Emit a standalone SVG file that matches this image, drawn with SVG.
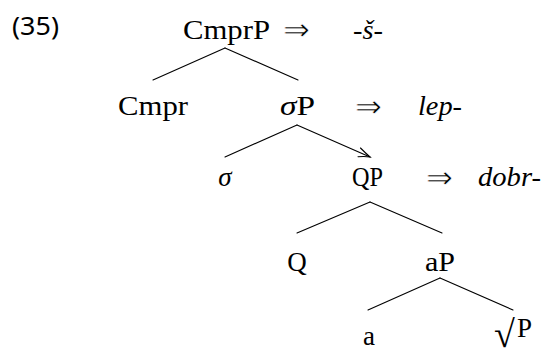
<svg xmlns="http://www.w3.org/2000/svg" width="545" height="356" viewBox="0 0 545 356">
  <style>
    .lbl { font-family: "Liberation Serif", "Times New Roman", serif; font-size: 27px; fill: #000; }
    .it { font-family: "Liberation Serif", "Times New Roman", serif; font-size: 27px; font-style: italic; fill: #000; }
    .arr { font-family: "DejaVu Sans", sans-serif; font-size: 31px; fill: #000; stroke: #fff; stroke-width: 0.7; }
    .num { font-family: "Noto Sans", "DejaVu Sans", sans-serif; font-size: 26px; fill: #000; }
    .edge { stroke: #000; stroke-width: 1.1; fill: none; stroke-linecap: round; }
  </style>
  <rect width="545" height="356" fill="#fff"/>
  <text class="num" x="12" y="35" textLength="47" lengthAdjust="spacingAndGlyphs">(35)</text>

  <g id="connectors">
    <line class="edge" x1="225" y1="48" x2="153" y2="80"/>
    <line class="edge" x1="225" y1="48" x2="298" y2="80"/>
    <line class="edge" x1="297" y1="125" x2="225" y2="157"/>
    <line class="edge" x1="297" y1="125" x2="370" y2="157"/>
    <path class="edge" d="M360.5,148 Q366,153.5 370,157 Q364.5,156 358,156.8"/>
    <line class="edge" x1="370" y1="202" x2="297" y2="233"/>
    <line class="edge" x1="370" y1="202" x2="442" y2="233"/>
    <line class="edge" x1="440" y1="278" x2="368" y2="310"/>
    <line class="edge" x1="440" y1="278" x2="513" y2="310"/>
  </g>

  <g id="node-CmprP">
    <text class="lbl" x="183" y="39" textLength="87" lengthAdjust="spacingAndGlyphs">CmprP</text>
    <text class="arr" x="283" y="40" textLength="27" lengthAdjust="spacingAndGlyphs">⇒</text>
    <text class="it" x="353" y="39" textLength="30" lengthAdjust="spacingAndGlyphs">-š-</text>
  </g>
  <g id="node-Cmpr">
    <text class="lbl" x="118" y="115" textLength="70" lengthAdjust="spacingAndGlyphs">Cmpr</text>
  </g>
  <g id="node-sigmaP">
    <text class="lbl" x="280" y="115" textLength="35" lengthAdjust="spacingAndGlyphs"><tspan font-style="italic">σ</tspan>P</text>
    <text class="arr" x="355" y="117" textLength="27" lengthAdjust="spacingAndGlyphs">⇒</text>
    <text class="it" x="418" y="115" textLength="44" lengthAdjust="spacingAndGlyphs">lep-</text>
  </g>
  <g id="node-sigma">
    <text class="lbl" x="225" y="186" text-anchor="middle" font-style="italic">σ</text>
  </g>
  <g id="node-QP">
    <text class="lbl" x="352" y="186" textLength="31" lengthAdjust="spacingAndGlyphs">QP</text>
    <text class="arr" x="426" y="188" textLength="27" lengthAdjust="spacingAndGlyphs">⇒</text>
    <text class="it" x="478" y="186" textLength="63" lengthAdjust="spacingAndGlyphs">dobr-</text>
  </g>
  <g id="node-Q">
    <text class="lbl" x="297" y="271" text-anchor="middle">Q</text>
  </g>
  <g id="node-aP">
    <text class="lbl" x="425" y="271" textLength="30" lengthAdjust="spacingAndGlyphs">aP</text>
  </g>
  <g id="node-a">
    <text class="lbl" x="369" y="345" text-anchor="middle">a</text>
  </g>
  <g id="node-rootP">
    <text class="lbl" x="494" y="347"><tspan font-size="38">√</tspan><tspan x="517" y="337">P</tspan></text>
  </g>
</svg>
